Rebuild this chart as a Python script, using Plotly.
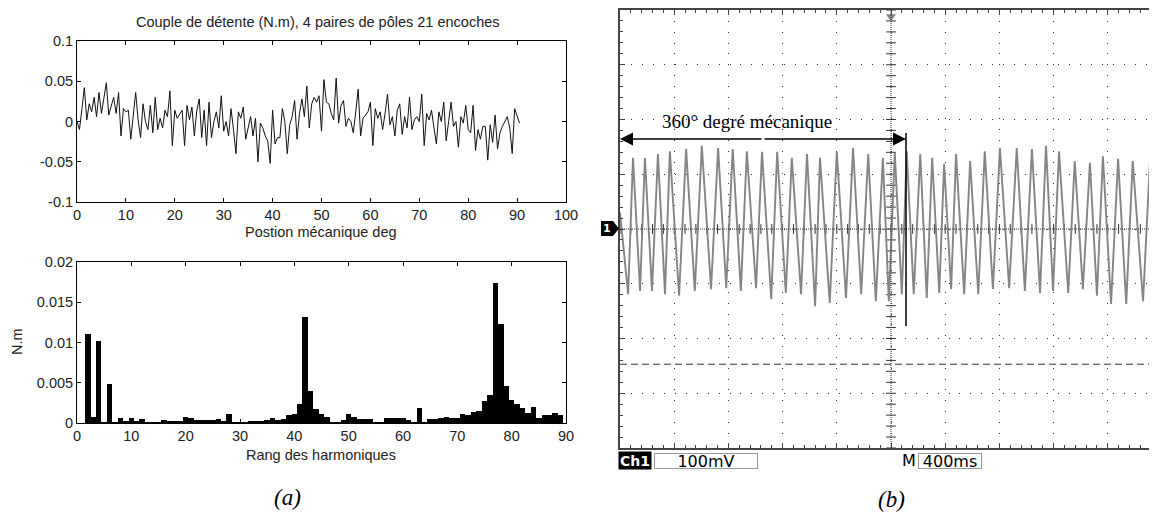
import plotly.graph_objects as go
import numpy as np

# ---------------- DATA ----------------
# (a) top: cogging torque vs mechanical position, sampled every 0.5 deg (values in mN.m)
position_step_deg = 0.5
couple_mNm = [
    0, -10, 15, 42, 2, 22, 12, 30, 6, 36, 10, 28, 48, 8, 20, 30, 10, 36, -18, 16,
    12, 14, -22, 4, 36, 2, -20, 22, 0, -10, 20, -14, 30, -10, 4, -8, 14, 6, 38, -30,
    14, 4, 10, 14, -30, 20, 2, 18, -18, 14, 28, -20, 14, -30, 24, -20, 0, 12, -8, 32,
    -12, 0, -18, 16, -10, -40, 12, 4, 18, -22, -8, 6, -18, 4, -50, -2, -8, -18, -24, -52,
    14, -28, -20, -20, 16, 0, -40, -4, 6, 26, -22, 10, 28, 6, 44, -8, 22, 30, 24, 32,
    -12, 52, 24, 22, 10, 2, 54, -2, 20, 26, -6, 4, 0, -14, 12, 40, -18, 4, 8, 12,
    24, -30, 16, 4, 12, -10, 10, 34, -4, 6, -18, 14, 22, -16, 6, -8, 30, -10, 2, 6,
    0, 34, -30, 10, 2, 14, -8, -28, 12, 0, 24, -24, 0, 24, -6, 0, -32, 6, -2, 20,
    -10, -14, 20, -36, -10, -22, -6, -6, -48, -4, -26, 8, -34, -14, -6, 0, 6, -8, -40, 16,
    8, -2,
]

# (a) bottom: harmonic spectrum, ranks 1..89 (values in mN.m)
harm_ranks = list(range(1, 90))
harm_amp_mNm = [
    0.0, 11.0, 0.75, 10.2, 0.1, 4.9, 0.1, 0.6, 0.2, 0.6,
    0.2, 0.45, 0.1, 0.1, 0.1, 0.35, 0.15, 0.15, 0.3, 0.75,
    0.6, 0.35, 0.35, 0.35, 0.35, 0.45, 0.3, 1.15, 0.08, 0.08,
    0.08, 0.2, 0.2, 0.2, 0.35, 0.6, 0.35, 0.45, 0.95, 1.1,
    2.4, 13.2, 4.0, 1.8, 1.1, 0.75, 0.1, 0.1, 0.35, 1.1,
    0.8, 0.45, 0.45, 0.45, 0.1, 0.02, 0.6, 0.6, 0.6, 0.6,
    0.35, 0.02, 1.85, 0.1, 0.45, 0.45, 0.65, 0.75, 0.6, 0.6,
    1.1, 0.95, 1.35, 1.5, 2.7, 3.45, 17.4, 12.3, 4.55, 2.8,
    2.3, 1.85, 1.3, 2.05, 0.6, 0.95, 0.95, 1.2, 1.05,
]

# (b) oscilloscope trace: peak and trough vertices (time in divisions, level in divisions)
scope_start = (0.0, 0.3)
peak_t = [0.24, 0.46, 0.70, 0.92, 1.22, 1.51, 1.81, 2.08, 2.34, 2.62,
          2.90, 3.17, 3.45, 3.69, 4.00, 4.30, 4.58, 4.85, 5.07, 5.29,
          5.54, 5.76, 5.98, 6.20, 6.46, 6.73, 7.01, 7.32, 7.60, 7.86,
          8.10, 8.39, 8.67, 8.91, 9.19, 9.46, 9.78]
peak_v = [1.30, 1.30, 1.37, 1.42, 1.46, 1.52, 1.48, 1.46, 1.42, 1.41,
          1.41, 1.30, 1.37, 1.30, 1.41, 1.48, 1.37, 1.30, 1.39, 1.42,
          1.37, 1.30, 1.19, 1.37, 1.24, 1.42, 1.48, 1.48, 1.46, 1.52,
          1.42, 1.24, 1.21, 1.33, 1.28, 1.24, 1.28]
trough_t = [0.15, 0.37, 0.59, 0.83, 1.09, 1.38, 1.68, 1.96, 2.23, 2.51,
            2.79, 3.06, 3.34, 3.60, 3.87, 4.17, 4.45, 4.72, 4.96, 5.20,
            5.42, 5.66, 5.89, 6.11, 6.35, 6.61, 6.88, 7.18, 7.47, 7.75,
            7.99, 8.27, 8.54, 8.80, 9.06, 9.34, 9.65, 9.91]
trough_v = [-1.19, -1.13, -1.13, -1.19, -1.22, -1.13, -1.10, -1.08, -1.13, -1.08,
            -1.28, -1.17, -1.19, -1.41, -1.35, -1.26, -1.19, -1.32, -1.32, -1.19,
            -1.19, -1.26, -1.17, -1.10, -1.19, -1.19, -1.10, -1.08, -1.13, -1.17,
            -1.13, -1.17, -1.10, -1.22, -1.37, -1.37, -1.32, -1.28]
revolution_end_div = 5.277   # end of the 360 deg mechanical span
dashed_level_div = -2.47

# ---------------- FIGURE ----------------
# The page body has an 8px margin, so the figure is 8px smaller and all
# reference pixel positions are shifted by that offset.
VIEW_W, VIEW_H = 1157, 516
OFF = 8
W, H = VIEW_W - OFF, VIEW_H - OFF


def px(x):
    return (x - OFF) / W


def py(y):
    return 1 - (y - OFF) / H


pos = [i * position_step_deg for i in range(len(couple_mNm))]
couple = [v / 1000 for v in couple_mNm]
amp = [v / 1000 for v in harm_amp_mNm]

pts = sorted(list(zip(peak_t, peak_v)) + list(zip(trough_t, trough_v)))
pts = [scope_start] + pts
wave_t = [p[0] for p in pts]
wave_v = [p[1] for p in pts]

fig = go.Figure()
fig.add_trace(go.Scatter(x=pos, y=couple, mode="lines",
                         line=dict(color="#111111", width=1),
                         xaxis="x", yaxis="y", hoverinfo="skip"))
fig.add_trace(go.Bar(x=harm_ranks, y=amp, width=1,
                     marker=dict(color="black", line=dict(width=0)),
                     xaxis="x2", yaxis="y2", hoverinfo="skip"))

ladder_y = np.round(np.arange(-4, 4.001, 0.2), 3)
ladder_x = np.round(np.arange(0, 9.91, 0.2), 3)
fig.add_trace(go.Scatter(x=[5] * len(ladder_y), y=ladder_y, mode="markers",
                         marker=dict(symbol="line-ew", size=7, line=dict(color="#333", width=1)),
                         xaxis="x3", yaxis="y3", hoverinfo="skip"))
fig.add_trace(go.Scatter(x=ladder_x, y=[0] * len(ladder_x), mode="markers",
                         marker=dict(symbol="line-ns", size=7, line=dict(color="#333", width=1)),
                         xaxis="x3", yaxis="y3", hoverinfo="skip"))
fig.add_trace(go.Scatter(x=wave_t, y=wave_v, mode="lines",
                         line=dict(color="#858585", width=1.9),
                         xaxis="x3", yaxis="y3", hoverinfo="skip"))
fig.add_trace(go.Scatter(x=[5], y=[3.88], mode="markers",
                         marker=dict(symbol="triangle-down", size=9, color="#888"),
                         xaxis="x3", yaxis="y3", hoverinfo="skip"))

mfont = dict(family="Liberation Sans, Arial", size=14.5, color="#222")
ax_common = dict(showline=True, linecolor="black", linewidth=1, mirror="ticks",
                 ticks="inside", ticklen=4, tickcolor="black", showgrid=False,
                 zeroline=False, tickfont=mfont, automargin=False)

scope_x_max = (VIEW_W - 620) / 54.2

fig.update_layout(
    width=W, height=H, margin=dict(l=0, r=0, t=0, b=0, autoexpand=False),
    paper_bgcolor="white", plot_bgcolor="rgba(0,0,0,0)", showlegend=False,
    bargap=0,
    xaxis=dict(ax_common, domain=[px(77), px(566)], range=[0, 100], dtick=10, anchor="y"),
    yaxis=dict(ax_common, domain=[py(202), py(41)], range=[-0.1, 0.1],
               tickvals=[-0.1, -0.05, 0, 0.05, 0.1],
               ticktext=["-0.1", "-0.05", "0", "0.05", "0.1"], anchor="x"),
    xaxis2=dict(ax_common, domain=[px(77), px(566)], range=[0, 90], dtick=10, anchor="y2"),
    yaxis2=dict(ax_common, domain=[py(423), py(262)], range=[0, 0.02],
                tickvals=[0, 0.005, 0.01, 0.015, 0.02],
                ticktext=["0", "0.005", "0.01", "0.015", "0.02"], anchor="x2"),
    xaxis3=dict(domain=[px(620), 1.0], range=[0, scope_x_max], anchor="y3",
                showline=True, linecolor="#444", linewidth=2, mirror="ticks",
                ticks="inside", ticklen=5, tickcolor="#444", dtick=1, tick0=0,
                showticklabels=False, zeroline=False, automargin=False,
                showgrid=True, gridcolor="#333", gridwidth=1, griddash="1px,9.84px",
                minor=dict(ticks="inside", ticklen=3, dtick=0.2, tick0=0,
                           tickcolor="#444", showgrid=False)),
    yaxis3=dict(domain=[py(448), py(10)], range=[-4, 4], anchor="x3",
                showline=True, linecolor="#444", linewidth=2, mirror=False,
                ticks="inside", ticklen=5, tickcolor="#444", dtick=1, tick0=0,
                showticklabels=False, zeroline=False, automargin=False,
                showgrid=True, gridcolor="#333", gridwidth=1, griddash="1px,9.95px",
                minor=dict(ticks="inside", ticklen=3, dtick=0.2, tick0=0,
                           tickcolor="#444", showgrid=False)),
)

shapes = [
    dict(type="line", xref="x3", yref="y3", x0=5, x1=5, y0=-4, y1=4,
         line=dict(color="#333", width=1, dash="1px,1px")),
    dict(type="line", xref="x3", yref="y3", x0=0, x1=scope_x_max, y0=0, y1=0,
         line=dict(color="#333", width=1, dash="1px,1px")),
    dict(type="line", xref="x3", yref="y3", x0=0, x1=scope_x_max,
         y0=dashed_level_div, y1=dashed_level_div,
         line=dict(color="#333", width=1, dash="7px,4px")),
    dict(type="line", xref="x3", yref="y3", x0=revolution_end_div, x1=revolution_end_div,
         y0=1.753, y1=-1.772, line=dict(color="black", width=1.5)),
    dict(type="path", xref="paper", yref="paper",
         path=f"M {px(601)},{py(221)} L {px(613)},{py(221)} L {px(619)},{py(228.5)} "
              f"L {px(613)},{py(236)} L {px(601)},{py(236)} Z",
         fillcolor="black", line=dict(width=0)),
]
fig.update_layout(shapes=shapes)

ann = []
arrow_y = 1.644
mid = revolution_end_div / 2
for tip in (0, revolution_end_div):
    ann.append(dict(xref="x3", yref="y3", axref="x3", ayref="y3",
                    x=tip, y=arrow_y, ax=mid, ay=arrow_y, text="",
                    showarrow=True, arrowhead=2, arrowsize=2.0, arrowwidth=1.3,
                    arrowcolor="black", standoff=0, startstandoff=0))
ann.append(dict(xref="x3", yref="y3", x=2.34, y=1.96, text="360° degré mécanique",
                showarrow=False, xanchor="center", yanchor="middle",
                font=dict(family="Liberation Serif", size=19, color="black")))


def lab(x, y, text, font, **kw):
    d = dict(xref="paper", yref="paper", x=px(x), y=py(y), text=text,
             showarrow=False, xanchor="center", yanchor="middle", font=font)
    d.update(kw)
    return d


serif_it = dict(family="Liberation Serif", size=23, color="black")
scope_font = dict(family="DejaVu Sans", size=16, color="black")
ann += [
    lab(318, 22, "Couple de détente (N.m), 4 paires de pôles 21 encoches", mfont),
    lab(321, 232, "Postion mécanique deg", mfont),
    lab(321, 455, "Rang des harmoniques", mfont),
    lab(17, 342, "N.m", mfont, textangle=-90),
    lab(287, 497, "<i>(a)</i>", serif_it),
    lab(891, 499, "<i>(b)</i>", serif_it),
    lab(607, 228.5, "<b>1</b>", dict(family="DejaVu Sans", size=11, color="white")),
    lab(635, 460.5, "<b>Ch1</b>", dict(family="DejaVu Sans", size=14, color="white"),
        bgcolor="black", width=30, height=15, borderpad=1),
    lab(706, 460.5, "100mV", scope_font, bgcolor="white", bordercolor="#999",
        borderwidth=1, width=102, height=14, borderpad=0),
    lab(909, 460.5, "M", scope_font),
    lab(950, 460.5, "400ms", scope_font, bgcolor="white", bordercolor="#999",
        borderwidth=1, width=62, height=14, borderpad=0),
]
fig.update_layout(annotations=ann)

fig.write_html("out.html")
